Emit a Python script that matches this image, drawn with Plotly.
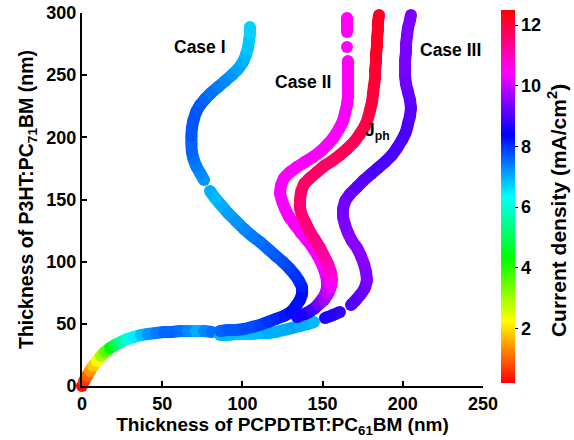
import plotly.graph_objects as go
from plotly.colors import sample_colorscale

# ---- data (thickness in nm, current density in mA/cm^2) ----
base_x = [0, 1.2, 3.1, 5.0, 6.9, 9.4, 11.8, 14.3, 17.5, 20.6, 24.3, 28.1, 32.4, 36.8,
          41.1, 46.1, 51.1, 56.1, 61.1, 66.1, 71.1, 76.1, 81.0]
base_y = [0, 4.0, 8.0, 12.1, 16.1, 20.1, 24.1, 27.3, 30.6, 33.0, 35.4, 37.8, 39.4, 41.0,
          41.8, 42.6, 43.4, 43.4, 44.2, 44.2, 44.2, 44.2, 43.4]
base_j = [0.3, 0.6, 1.0, 1.4, 1.8, 2.3, 3.0, 3.6, 4.3, 5.0, 5.6, 6.1, 6.5, 6.9,
          7.2, 7.4, 7.6, 7.6, 7.5, 7.3, 7.0, 7.3, 7.5]
base_breaks = []

case1_x = [86.0, 91.0, 96.0, 101.0, 106.0, 111.0, 116.0, 120.9, 125.9, 130.3, 133.4, 135.9,
           137.2, 137.2, 135.3, 132.8, 129.1, 125.3, 120.9, 116.0, 111.0, 106.0, 101.0, 96.0,
           91.0, 86.7, 82.9, 79.8, 76.1, 73.6, 71.1, 69.5, 68.5, 68.2, 68.2, 68.5, 69.5,
           71.1, 73.6, 76.7, 80.4, 84.8, 89.2, 93.5, 97.3, 100.4, 102.2, 103.5, 104.1, 104.7, 104.7]
case1_y = [44.2, 45.0, 45.0, 45.8, 47.5, 49.1, 51.5, 53.9, 56.3, 59.5, 64.3, 69.2,
           74.0, 79.6, 84.5, 89.3, 94.9, 99.7, 104.6, 110.2, 115.8, 120.6, 126.3, 132.7,
           139.1, 145.6, 151.2, 156.8, 165.7, 171.3, 176.9, 182.6, 188.2, 194.6, 201.1, 207.5, 213.9,
           220.4, 226.0, 230.8, 235.7, 240.5, 245.3, 250.1, 255.0, 260.6, 266.2, 271.9, 277.5, 283.1, 288.7]
case1_j = [7.6, 7.7, 7.7, 7.8, 7.8, 7.9, 8.0, 8.1, 8.2, 8.3, 8.3, 8.3,
           8.3, 8.2, 8.1, 8.0, 7.9, 7.8, 7.7, 7.6, 7.5, 7.4, 7.3, 7.2,
           7.1, 7.0, 6.9, 7.0, 7.2, 7.3, 7.4, 7.5, 7.6, 7.6, 7.7, 7.7, 7.7,
           7.7, 7.7, 7.6, 7.5, 7.4, 7.3, 7.2, 7.1, 7.0, 6.9, 6.8, 6.8, 6.7, 6.7]
case1_breaks = [28]

case2_x = [134.0, 140.3, 145.3, 148.4, 151.5, 152.7, 152.7, 151.5, 149.6, 147.1, 144.0, 140.3,
           136.5, 132.8, 129.1, 126.6, 124.7, 123.4, 124.1, 125.9, 129.7, 134.0, 139.0, 144.0,
           149.0, 153.4, 157.1, 160.2, 162.7, 164.0, 165.2, 165.8, 165.8, 165.8, 165.8, 165.8,
           165.8, 165.2, 165.2, 165.2, 165.2]
case2_y = [55.5, 58.7, 62.7, 67.6, 73.2, 78.8, 85.3, 91.7, 98.1, 104.6, 111.0, 117.4,
           123.1, 129.5, 135.9, 142.4, 148.8, 155.2, 161.7, 167.3, 172.1, 176.1, 180.2, 184.2,
           189.0, 194.6, 200.3, 206.7, 213.1, 219.6, 226.0, 232.4, 238.9, 245.3, 251.7, 257.4,
           261.4, 272.7, 284.7, 289.5, 296.0]
case2_j = [8.6, 8.9, 9.2, 9.5, 9.8, 10.0, 10.2, 10.3, 10.4, 10.4, 10.4, 10.4,
           10.4, 10.4, 10.4, 10.4, 10.4, 10.4, 10.4, 10.4, 10.4, 10.4, 10.4, 10.4,
           10.4, 10.4, 10.4, 10.4, 10.4, 10.4, 10.4, 10.4, 10.4, 10.5, 10.5, 10.5,
           10.5, 10.5, 10.5, 10.5, 10.5]
case2_breaks = [37, 38]

jph_x = [139.0, 143.4, 147.1, 150.9, 153.4, 155.2, 155.9, 155.2, 153.4, 150.9, 148.4, 145.3,
         142.1, 139.7, 137.2, 135.9, 135.9, 136.5, 138.4, 142.1, 146.5, 150.9, 155.9, 160.8,
         165.2, 169.6, 173.3, 176.4, 178.3, 179.6, 180.8, 181.4, 182.0, 182.7, 182.7, 183.3,
         183.3, 183.9, 183.9, 184.5, 184.5, 185.2]
jph_y = [57.9, 61.1, 65.1, 69.2, 74.0, 79.6, 85.3, 91.7, 98.1, 104.6, 111.0, 117.4,
         123.9, 130.3, 136.7, 143.2, 149.6, 156.0, 162.5, 167.3, 172.1, 176.9, 181.0, 185.8,
         190.6, 196.2, 202.7, 209.1, 215.5, 222.0, 228.4, 234.8, 241.3, 247.7, 254.2, 260.6,
         267.0, 273.5, 279.9, 286.3, 292.8, 298.4]
jph_j = [8.6, 8.9, 9.3, 9.7, 10.0, 10.3, 10.6, 10.8, 11.0, 11.2, 11.3, 11.4,
         11.5, 11.5, 11.6, 11.6, 11.6, 11.7, 11.7, 11.7, 11.7, 11.7, 11.7, 11.8,
         11.8, 11.8, 11.9, 11.9, 11.9, 12.0, 12.0, 12.0, 12.1, 12.1, 12.1, 12.1,
         12.2, 12.2, 12.2, 12.2, 12.2, 12.2]
jph_breaks = []

case3_x = [86.0, 91.0, 96.0, 101.0, 106.0, 111.0, 116.0, 120.9, 125.9, 130.9, 135.9, 140.9,
           144.6, 151.5, 156.5, 160.8, 167.7, 170.8, 173.9, 176.4, 177.7, 177.1, 175.8, 173.9,
           171.5, 168.3, 165.8, 164.0, 162.7, 162.7, 164.0, 167.1, 171.5, 175.8, 180.2, 184.5,
           188.9, 193.3, 196.4, 199.5, 202.0, 203.2, 204.5, 205.1, 204.5, 203.2, 202.0, 201.4,
           201.4, 201.4, 202.0, 202.0, 202.6, 203.2, 204.5, 205.1]
case3_y = [41.0, 41.0, 41.8, 41.8, 41.8, 42.6, 42.6, 43.4, 45.0, 46.6, 48.3, 49.9,
           51.5, 54.7, 57.1, 59.5, 65.1, 69.2, 74.0, 78.8, 85.3, 91.7, 98.1, 104.6,
           111.0, 116.6, 123.1, 129.5, 135.9, 142.4, 148.8, 154.4, 160.1, 165.7, 170.5, 175.3,
           180.2, 185.8, 191.4, 197.9, 204.3, 210.7, 217.2, 223.6, 230.0, 236.5, 242.9, 249.3,
           255.8, 262.2, 268.6, 275.1, 281.5, 287.9, 294.4, 298.4]
case3_j = [6.9, 6.9, 6.9, 6.8, 6.9, 6.9, 7.0, 7.0, 7.0, 7.1, 7.0, 7.0,
           6.9, 8.6, 8.7, 8.8, 9.0, 9.1, 9.2, 9.3, 9.4, 9.4, 9.5, 9.5,
           9.5, 9.5, 9.5, 9.4, 9.4, 9.3, 9.3, 9.2, 9.1, 9.1, 9.0, 9.0,
           9.0, 9.0, 9.0, 9.0, 9.0, 9.0, 9.1, 9.1, 9.2, 9.2, 9.3, 9.3,
           9.4, 9.4, 9.4, 9.4, 9.4, 9.4, 9.4, 9.4]
case3_breaks = [13, 16]

labels = ["Case I", "Case II", "Case III", "J<sub>ph</sub>"]
label_x = [73.6, 137.8, 230.0, 184.5]
label_y = [272.5, 244.5, 270.5, 205.0]

cbar_ticks = [2, 4, 6, 8, 10, 12]
cbar_title = "Current density (mA/cm<sup>2</sup>)"
x_ticks = [0, 50, 100, 150, 200, 250]
y_ticks = [0, 50, 100, 150, 200, 250, 300]

J_MIN, J_MAX = 0.2, 12.5
SCALE = [[0, "#ff0000"], [1/6, "#ffff00"], [2/6, "#00ff00"], [3/6, "#00ffff"],
         [4/6, "#0000ff"], [5/6, "#ff00ff"], [1, "#ff0000"]]
FONT = "Liberation Sans, Arial, sans-serif"
DOT = 12


def color_of(v):
    t = min(max((v - J_MIN) / (J_MAX - J_MIN), 0), 1)
    return sample_colorscale(SCALE, [t])[0]


fig = go.Figure()
curves = [(base_x, base_y, base_j, base_breaks), (case3_x, case3_y, case3_j, case3_breaks),
          (case1_x, case1_y, case1_j, case1_breaks), (case2_x, case2_y, case2_j, case2_breaks),
          (jph_x, jph_y, jph_j, jph_breaks)]
for xs, ys, js, breaks in curves:
    # smooth band: short colored segments between consecutive readings
    for i in range(len(xs) - 1):
        if (i + 1) in breaks:
            continue
        fig.add_trace(go.Scatter(
            x=[xs[i], xs[i + 1]], y=[ys[i], ys[i + 1]], mode="lines",
            line=dict(color=color_of((js[i] + js[i + 1]) / 2), width=DOT),
            cliponaxis=False, showlegend=False, hoverinfo="skip"))
    fig.add_trace(go.Scatter(
        x=xs, y=ys, mode="markers", cliponaxis=False, showlegend=False,
        hoverinfo="skip",
        marker=dict(size=DOT, color=js, coloraxis="coloraxis", line=dict(width=0)),
    ))

for t, lx, ly in zip(labels, label_x, label_y):
    fig.add_annotation(x=lx, y=ly, xref="x", yref="y", text=t, showarrow=False,
                       font=dict(family=FONT, size=17.5, color="black", weight="bold"))

# colorbar title, placed like the reference (slightly below the bar centre)
fig.add_annotation(x=1.183, y=0.47, xref="paper", yref="paper", text=cbar_title,
                   showarrow=False, textangle=-90, xanchor="center", yanchor="middle",
                   font=dict(family=FONT, size=21, color="black", weight="bold"))

axis_common = dict(
    showline=True, linewidth=2, linecolor="black", showgrid=False, zeroline=False,
    ticks="inside", ticklen=5, tickwidth=2, tickcolor="black", automargin=False,
    tickfont=dict(family=FONT, size=18, color="black", weight="bold"),
)

fig.update_layout(
    width=574, height=440,
    margin=dict(l=82, r=91, t=13, b=54, autoexpand=False),
    paper_bgcolor="white", plot_bgcolor="white",
    font=dict(family=FONT, color="black"),
    xaxis=dict(range=[0, 250], tickvals=x_ticks,
               title=dict(text="Thickness of PCPDTBT:PC<sub>61</sub>BM (nm)", standoff=2,
                          font=dict(family=FONT, size=19, color="black", weight="bold")),
               **axis_common),
    yaxis=dict(range=[0, 300], tickvals=y_ticks,
               title=dict(text="Thickness of P3HT:PC<sub>71</sub>BM (nm)", standoff=8,
                          font=dict(family=FONT, size=19.5, color="black", weight="bold")),
               **axis_common),
    coloraxis=dict(
        cmin=J_MIN, cmax=J_MAX, colorscale=SCALE,
        colorbar=dict(
            thickness=14, x=1.045, xanchor="left", xpad=0,
            y=0.508, yanchor="middle", ypad=0,
            len=1.0, lenmode="fraction", outlinewidth=0,
            tickvals=cbar_ticks, ticks="outside", ticklen=3, tickcolor="black",
            tickfont=dict(family=FONT, size=18, color="black", weight="bold"),
        ),
    ),
)

fig.write_html("out.html", config={"displayModeBar": False},
               post_script="document.body.style.margin='0';")
